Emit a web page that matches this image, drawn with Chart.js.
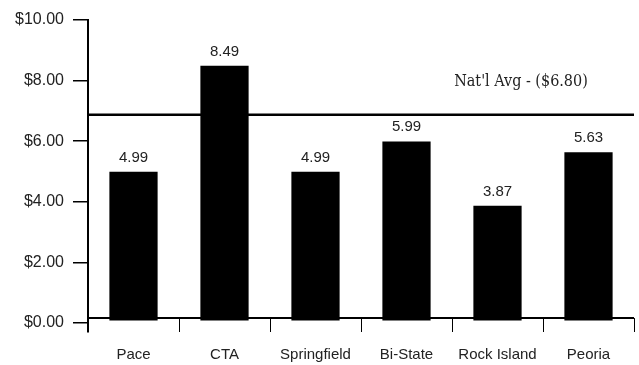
<!DOCTYPE html>
<html>
<head>
<meta charset="utf-8">
<script src="https://cdn.jsdelivr.net/npm/chart.js@4"></script>
<style>
  html, body { margin: 0; padding: 0; background: #fff; }
  #wrap { width: 639px; height: 365px; }
</style>
</head>
<body>
<div id="wrap"><canvas id="fareChart"></canvas></div>
<script>
// values
const systems = ['Pace', 'CTA', 'Springfield', 'Bi-State', 'Rock Island', 'Peoria'];
const fares = [4.99, 8.49, 4.99, 5.99, 3.87, 5.63];
const yTicks = [0, 2, 4, 6, 8, 10];
const natlAvg = 6.80;       // value in the label
const natlAvgLine = 6.87;   // where the line actually sits
const baseLineValue = 0.16; // thin axis line just above $0.00
const barBase = 0.08;       // bars start a hair above zero

// draws the average line, the baseline, the x tick marks and the value labels
const overlay = {
  id: 'overlay',
  afterDraw(chart) {
    const { ctx, chartArea } = chart;
    const x = chart.scales.x;
    const y = chart.scales.y;
    ctx.save();
    ctx.strokeStyle = '#000';

    // baseline
    const by = y.getPixelForValue(baseLineValue);
    ctx.lineWidth = 2;
    ctx.beginPath();
    ctx.moveTo(chartArea.left, by);
    ctx.lineTo(chartArea.right, by);
    ctx.stroke();

    // tick marks between categories
    ctx.lineWidth = 1;
    const step = x.width / systems.length;
    for (let i = 1; i <= systems.length; i++) {
      const tx = Math.round(x.left + i * step) + 0.5;
      ctx.beginPath();
      ctx.moveTo(tx, by);
      ctx.lineTo(tx, chartArea.bottom);
      ctx.stroke();
    }

    // national average line
    const ay = y.getPixelForValue(natlAvgLine);
    ctx.lineWidth = 2.5;
    ctx.beginPath();
    ctx.moveTo(chartArea.left, ay);
    ctx.lineTo(chartArea.right, ay);
    ctx.stroke();

    ctx.fillStyle = '#222';
    ctx.font = '16px "DejaVu Serif Condensed", "DejaVu Serif", serif';
    ctx.textAlign = 'center';
    ctx.textBaseline = 'middle';
    ctx.fillText("Nat'l Avg - ($" + natlAvg.toFixed(2) + ')', chartArea.right - 113, ay - 33);

    // value labels over bars
    ctx.font = '15px "Liberation Sans", Arial, sans-serif';
    ctx.textBaseline = 'alphabetic';
    chart.getDatasetMeta(0).data.forEach((bar, i) => {
      ctx.fillText(fares[i].toFixed(2), bar.x, bar.y - 10);
    });
    ctx.restore();
  }
};

new Chart(document.getElementById('fareChart'), {
  type: 'bar',
  data: {
    labels: systems,
    datasets: [{
      data: fares,
      base: barBase,
      backgroundColor: '#000',
      borderWidth: 0,
      barPercentage: 0.53,
      categoryPercentage: 1
    }]
  },
  options: {
    responsive: true,
    maintainAspectRatio: false,
    animation: false,
    layout: { padding: { top: 20, right: 5, left: 0, bottom: 0 } },
    plugins: {
      legend: { display: false },
      tooltip: { enabled: false }
    },
    scales: {
      x: {
        grid: { display: false, drawTicks: false },
        border: { display: false },
        ticks: {
          color: '#222',
          padding: 14,
          font: { family: '"Liberation Sans", Arial, sans-serif', size: 15 }
        },
        afterFit(scale) { scale.height = 33; }
      },
      y: {
        min: -0.3,
        max: 10,
        afterBuildTicks(scale) { scale.ticks = yTicks.map(v => ({ value: v })); },
        grid: { drawOnChartArea: false, tickLength: 15, color: '#000', lineWidth: 1.5 },
        border: { color: '#000', width: 2 },
        ticks: {
          color: '#222',
          padding: 9,
          font: { family: '"Liberation Sans", Arial, sans-serif', size: 16 },
          callback: v => '$' + Number(v).toFixed(2)
        },
        afterFit(scale) { scale.width = 88; }
      }
    }
  },
  plugins: [overlay]
});
</script>
</body>
</html>
